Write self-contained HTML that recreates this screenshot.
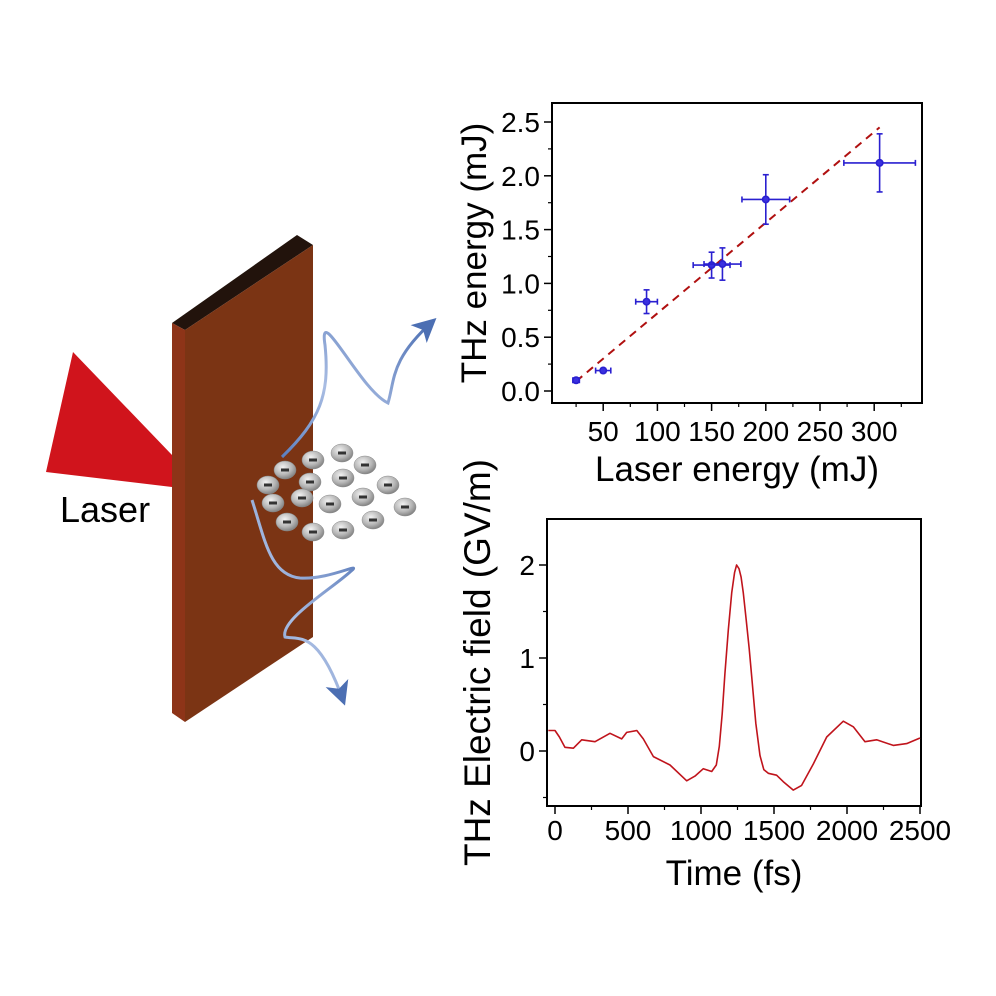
<!DOCTYPE html>
<html><head><meta charset="utf-8"><style>
html,body{margin:0;padding:0;background:#fff;}
svg{display:block;font-family:"Liberation Sans",Arial,sans-serif;}
</style></head><body>
<svg id="fig" width="996" height="996" viewBox="0 0 996 996">
<defs>
<radialGradient id="eg" cx="0.4" cy="0.35" r="0.7"><stop offset="0" stop-color="#f2f2f2"/><stop offset="0.6" stop-color="#b5b5b5"/><stop offset="1" stop-color="#7a7a7a"/></radialGradient>
<linearGradient id="wg1" x1="0" y1="1" x2="1" y2="0"><stop offset="0" stop-color="#5b7fc0"/><stop offset="0.4" stop-color="#a9bde3"/><stop offset="1" stop-color="#4c6fb3"/></linearGradient>
<marker id="ah" markerWidth="8" markerHeight="8" refX="6" refY="4" orient="auto"><path d="M0,0 L8,4 L0,8 L2,4z" fill="#4c6fb3"/></marker>
</defs>
<g>
<polygon points="73,352 46,472 172,487 172,455" fill="#d0141c"/>
<text x="60" y="522" font-size="36" fill="#000">Laser</text>
<polygon points="172,323 297,235 313,245 185,330" fill="#22130c"/>
<polygon points="172,323 185,330 185,722 172,713" fill="#8d3418"/>
<polygon points="185,330 313,245 313,637 185,722" fill="#7b3414"/>
<path d="M282,457 C320,420 330,395 325,345 C318,300 360,390 388,403 C395,380 390,360 432,322" stroke="url(#wg1)" stroke-width="3" fill="none" marker-end="url(#ah)"/>
<path d="M252,500 C265,540 270,575 300,578 C330,580 365,560 350,572 C330,590 280,620 285,637 C300,640 318,630 343,700" stroke="url(#wg1)" stroke-width="3" fill="none" marker-end="url(#ah)"/>
<g id="electrons"></g>
</g>
<g id="chart1"></g>
<g id="chart2"></g>
</svg>
<script>
const NS='http://www.w3.org/2000/svg';
function mk(p,tag,attrs){const e=document.createElementNS(NS,tag);for(const k in attrs)e.setAttribute(k,attrs[k]);p.appendChild(e);return e;}

// electrons
const ex=[342,365,313,285,343,388,268,310,363,405,273,302,330,373,287,313,343];
const ey=[453,465,460,470,478,485,485,482,497,507,503,498,504,520,522,532,530];
const eg=document.getElementById('electrons');
for(let i=0;i<ex.length;i++){
  const g=mk(eg,'g',{});
  
  
  mk(g,'ellipse',{cx:ex[i],cy:ey[i],rx:11,ry:9,fill:'url(#eg)',stroke:'#888','stroke-width':0.5});
  mk(g,'rect',{x:ex[i]-4,y:ey[i]-1.5,width:8,height:3,fill:'#333'});
}

// ---- chart 1 data ----
const laserE=[25,50,90,150,160,200,305];
const thzE=[0.10,0.19,0.83,1.17,1.18,1.78,2.12];
const laserErr=[3,7,10,17,17,22,33];
const thzErr=[0.02,0.02,0.11,0.12,0.15,0.23,0.27];
const fitX=[25,305];
const fitY=[0.09,2.45];
const xTicks1=[50,100,150,200,250,300];
const yTicks1=[0.0,0.5,1.0,1.5,2.0,2.5];

// ---- chart 2 data ----
const timeFs=[-46,0,30,68,126,183,274,377,457,491,560,605,674,788,902,959,1016,1073,1105,1125,1145,1164,1187,1210,1230,1244,1260,1275,1290,1310,1330,1347,1375,1404,1430,1461,1518,1564,1632,1689,1769,1861,1975,2043,2123,2203,2317,2409,2500];
const field=[0.22,0.22,0.15,0.04,0.03,0.12,0.10,0.19,0.13,0.20,0.22,0.13,-0.06,-0.15,-0.32,-0.27,-0.19,-0.22,-0.15,0.05,0.40,0.83,1.30,1.70,1.92,2.00,1.96,1.87,1.70,1.40,1.10,0.80,0.30,-0.05,-0.20,-0.24,-0.26,-0.33,-0.42,-0.37,-0.14,0.15,0.32,0.26,0.10,0.12,0.06,0.08,0.14];
const xTicks2=[0,500,1000,1500,2000,2500];
const yTicks2=[0,1,2];

function axes(g,L,T,R,B,xs,ys,xt,yt,xmin,ymin,xfmt,yfmt,xtitle,ytitle,xtY,titleY,ytitleX,tfs,yfs){
  const r=mk(g,'rect',{x:L,y:T,width:R-L,height:B-T,fill:'none',stroke:'#000','stroke-width':2});
  
  xt.forEach(v=>{const x=xs(v);mk(g,'line',{x1:x,y1:B,x2:x,y2:B+8,stroke:'#000','stroke-width':1.5});
    const t=mk(g,'text',{x:x,y:xtY,'font-size':28,'text-anchor':'middle'});t.textContent=xfmt(v);
    });
  xmin.forEach(v=>{const x=xs(v);mk(g,'line',{x1:x,y1:B,x2:x,y2:B+4,stroke:'#000','stroke-width':1.2});});
  yt.forEach(v=>{const y=ys(v);mk(g,'line',{x1:L,y1:y,x2:L-8,y2:y,stroke:'#000','stroke-width':1.5});
    const t=mk(g,'text',{x:L-12,y:y+10,'font-size':28,'text-anchor':'end'});t.textContent=yfmt(v);
    });
  ymin.forEach(v=>{const y=ys(v);mk(g,'line',{x1:L,y1:y,x2:L-4,y2:y,stroke:'#000','stroke-width':1.2});});
  const xt2=mk(g,'text',{x:(L+R)/2,y:titleY,'font-size':tfs,'text-anchor':'middle'});xt2.textContent=xtitle;
  
  const cy=(T+B)/2;
  const yt2=mk(g,'text',{x:ytitleX,y:cy,'font-size':yfs,'text-anchor':'middle',transform:`rotate(-90 ${ytitleX} ${cy})`});yt2.textContent=ytitle;
  
}

// chart 1
(function(){
  const g=document.getElementById('chart1');
  const L=552,R=922,T=103,B=403;
  const xs=v=>549+v*1.084, ys=v=>391-v*107.6;
  axes(g,L,T,R,B,xs,ys,xTicks1,yTicks1,[25,75,125,175,225,275,325],[0.25,0.75,1.25,1.75,2.25],
    v=>String(v),v=>v.toFixed(1),'Laser energy (mJ)','THz energy (mJ)',441,481,486,35,35);
  const fl=mk(g,'line',{x1:xs(fitX[0]),y1:ys(fitY[0]),x2:xs(fitX[1]),y2:ys(fitY[1]),stroke:'#b01010','stroke-width':2,'stroke-dasharray':'8,6'});
  
  for(let i=0;i<laserE.length;i++){
    const p=mk(g,'g',{stroke:'#2a20d0','stroke-width':1.6});
    
    
    const x=xs(laserE[i]),y=ys(thzE[i]);
    const x1=xs(laserE[i]-laserErr[i]),x2=xs(laserE[i]+laserErr[i]);
    const y1=ys(thzE[i]-thzErr[i]),y2=ys(thzE[i]+thzErr[i]);
    mk(p,'line',{x1:x1,y1:y,x2:x2,y2:y});
    mk(p,'line',{x1:x1,y1:y-3,x2:x1,y2:y+3});mk(p,'line',{x1:x2,y1:y-3,x2:x2,y2:y+3});
    mk(p,'line',{x1:x,y1:y1,x2:x,y2:y2});
    mk(p,'line',{x1:x-3,y1:y1,x2:x+3,y2:y1});mk(p,'line',{x1:x-3,y1:y2,x2:x+3,y2:y2});
    mk(p,'circle',{cx:x,cy:y,r:3.2,fill:'#3a30e0'});
  }
})();

// chart 2
(function(){
  const g=document.getElementById('chart2');
  const L=547,R=921,T=519,B=806;
  const xs=v=>555+v*0.146, ys=v=>751-v*93;
  axes(g,L,T,R,B,xs,ys,xTicks2,yTicks2,[250,750,1250,1750,2250],[-0.5,0.5,1.5],
    v=>String(v),v=>String(v),'Time (fs)','THz Electric field (GV/m)',840,885,490,35,37);
  let d='';
  for(let i=0;i<timeFs.length;i++){d+=(i?'L':'M')+xs(timeFs[i]).toFixed(1)+','+ys(field[i]).toFixed(1);}
  const pl=mk(g,'path',{d:d,fill:'none',stroke:'#c0141c','stroke-width':1.6,'stroke-linejoin':'round'});
  
})();
</script>
</body></html>
